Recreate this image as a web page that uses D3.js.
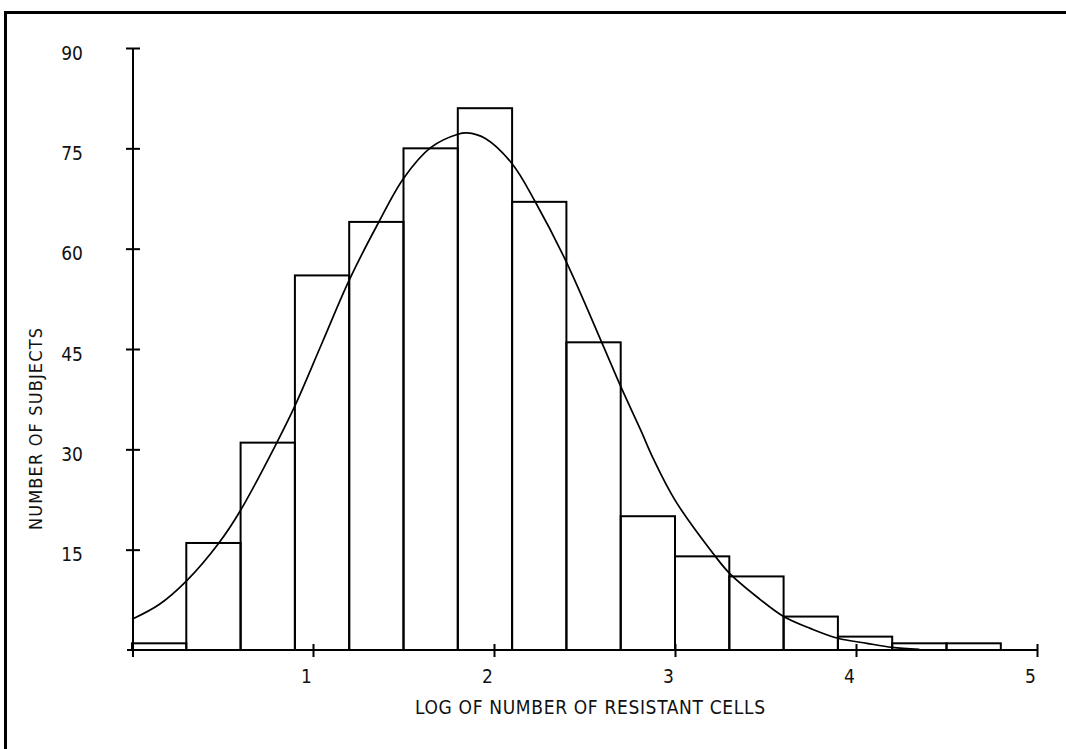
<!DOCTYPE html>
<html>
<head>
<meta charset="utf-8">
<script src="https://cdn.jsdelivr.net/npm/d3@7"></script>
<style>
  html, body { margin: 0; padding: 0; background: #fff; }
  svg text { font-family: "DejaVu Sans Condensed", "Liberation Sans Narrow", "Liberation Sans", sans-serif; fill: #111; }
</style>
</head>
<body>
<svg id="chart" width="1066" height="749"></svg>
<script>
// Histogram bins: lower edge (log10 of resistant cells), bin width and counts
const binStarts = [0.0, 0.3, 0.6, 0.9, 1.2, 1.5, 1.8, 2.1, 2.4, 2.7, 3.0, 3.3, 3.6, 3.9, 4.2, 4.5];
const binWidth = 0.3;
const counts = [1, 16, 31, 56, 64, 75, 81, 67, 46, 20, 14, 11, 5, 2, 1, 1];

// Fitted density curve, scaled to subject counts
const curveX = [0, 0.15, 0.3, 0.48, 0.6, 0.8, 0.9, 1.05, 1.2, 1.36, 1.5, 1.65, 1.8, 1.85, 1.95, 2.1, 2.23, 2.4, 2.6, 2.7, 2.81, 2.88, 3.0, 3.22, 3.3, 3.45, 3.6, 3.75, 3.9, 4.06, 4.2, 4.35];
const curveY = [4.6, 6.8, 10.3, 16, 20.9, 31, 36.5, 45.9, 55.3, 63.8, 70.5, 75.1, 77.1, 77.3, 76.5, 72.7, 66.9, 58.0, 45.7, 39.4, 32.9, 28.6, 22.4, 14.1, 11.5, 8.0, 5.0, 3.2, 1.75, 1.0, 0.4, 0.1];

// Axis ticks
const xTicks = [1, 2, 3, 4, 5];
const yTicks = [15, 30, 45, 60, 75, 90];

const xLabel = "LOG OF NUMBER OF RESISTANT CELLS";
const yLabel = "NUMBER OF SUBJECTS";

const svg = d3.select("#chart");

const x = d3.scaleLinear().domain([0, 5]).range([132, 1037]);
const y = d3.scaleLinear().domain([0, 90]).range([650, 48]);

// outer frame (runs off the right and bottom edges)
svg.append("rect")
  .attr("x", 5.5).attr("y", 12.5)
  .attr("width", 1100).attr("height", 800)
  .attr("fill", "none").attr("stroke", "#000").attr("stroke-width", 3);

// histogram bars
svg.append("g").selectAll("rect")
  .data(binStarts)
  .join("rect")
  .attr("x", d => x(d))
  .attr("width", d => x(d + binWidth) - x(d))
  .attr("y", (d, i) => y(counts[i]))
  .attr("height", (d, i) => y(0) - y(counts[i]))
  .attr("fill", "none")
  .attr("stroke", "#000")
  .attr("stroke-width", 2);

// fitted curve
const pts = curveX.map((v, i) => [v, curveY[i]]);
svg.append("path")
  .datum(pts)
  .attr("fill", "none")
  .attr("stroke", "#000")
  .attr("stroke-width", 1.7)
  .attr("d", d3.line().x(d => x(d[0])).y(d => y(d[1])).curve(d3.curveCatmullRom.alpha(0.5)));

// x axis: line with ticks crossing it
const xAxis = d3.axisBottom(x).tickValues(xTicks).tickSize(0).tickFormat("");
const gx = svg.append("g").attr("transform", `translate(0,${y(0)})`).call(xAxis);
gx.select(".domain").remove();
gx.append("line")
  .attr("x1", x(0) - 5).attr("x2", x(5))
  .attr("stroke", "#000").attr("stroke-width", 2);
gx.selectAll(".tick line")
  .attr("y1", -6).attr("y2", 7)
  .attr("stroke", "#000").attr("stroke-width", 2);
gx.selectAll(".tick").append("text")
  .attr("x", -7).attr("y", 33)
  .attr("text-anchor", "middle")
  .attr("font-size", 19)
  .text(d => d);

// y axis
const yAxis = d3.axisLeft(y).tickValues(yTicks).tickSize(0).tickFormat("");
const gy = svg.append("g").attr("transform", `translate(${x(0) + 1},0)`).call(yAxis);
gy.select(".domain").remove();
gy.append("line")
  .attr("y1", y(90)).attr("y2", y(0) + 7)
  .attr("stroke", "#000").attr("stroke-width", 2);
gy.selectAll(".tick line")
  .attr("x1", -7).attr("x2", 7)
  .attr("stroke", "#000").attr("stroke-width", 2);
gy.selectAll(".tick").append("text")
  .attr("x", -50).attr("y", 11)
  .attr("text-anchor", "end")
  .attr("font-size", 19)
  .text(d => d);

// axis titles
svg.append("text")
  .attr("x", 590).attr("y", 714)
  .attr("text-anchor", "middle")
  .attr("font-size", 19)
  .attr("textLength", 350)
  .attr("lengthAdjust", "spacing")
  .text(xLabel);

svg.append("text")
  .attr("transform", "translate(42,429) rotate(-90)")
  .attr("text-anchor", "middle")
  .attr("font-size", 18)
  .attr("textLength", 202)
  .attr("lengthAdjust", "spacing")
  .text(yLabel);
</script>
</body>
</html>
